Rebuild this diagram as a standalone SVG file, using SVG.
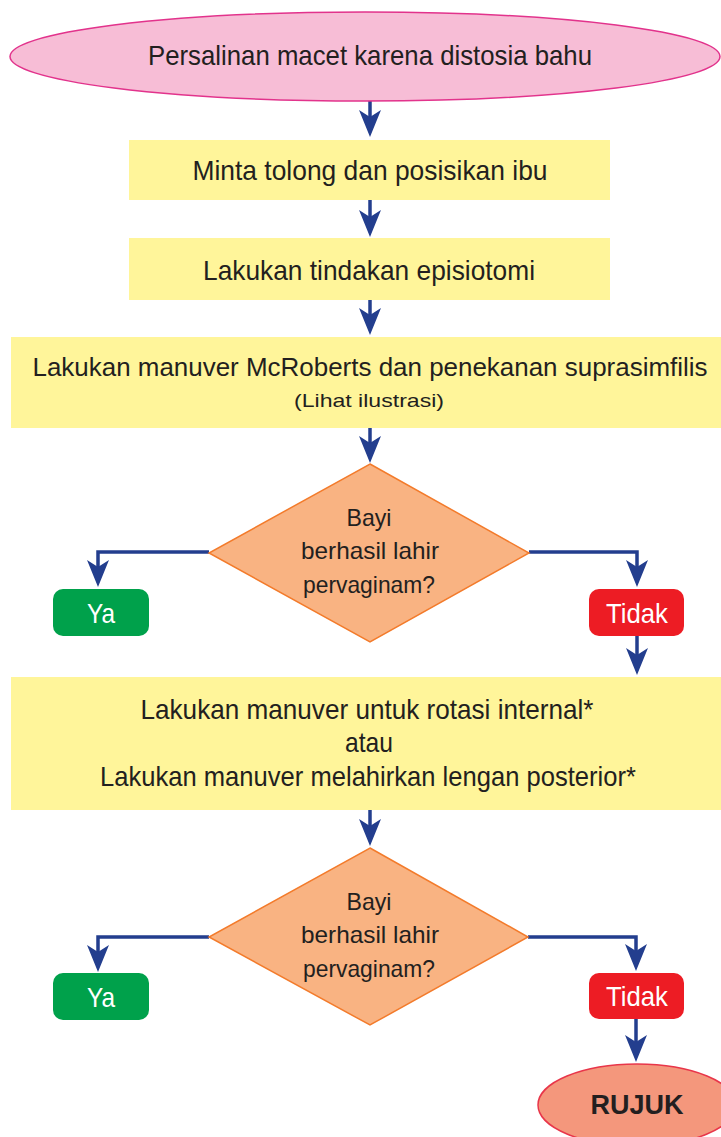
<svg xmlns="http://www.w3.org/2000/svg" width="721" height="1137" viewBox="0 0 721 1137">
<style>
.t{font-family:"Liberation Sans",Arial,sans-serif;fill:#231F20;text-anchor:middle}
.m{font-size:28px}
.s{font-size:19px}
.d{font-size:24px}
.w{font-family:"Liberation Sans",Arial,sans-serif;fill:#FFFFFF;text-anchor:middle;font-size:28px}
.box{fill:#FFF59A}
.dia{fill:#F9B382;stroke:#F37B2B;stroke-width:1.5}
.ya{fill:#00A14B}
.no{fill:#ED1C24}
.c{fill:none;stroke:#233E8E;stroke-width:3.5;marker-end:url(#ah)}
</style>
<defs>
<marker id="ah" markerUnits="userSpaceOnUse" viewBox="0 0 27 22" markerWidth="27" markerHeight="22" refX="17" refY="11" orient="auto">
<path d="M0,0 L27,11 L0,22 L7,11 Z" fill="#233E8E"/>
</marker>
</defs>
<rect width="721" height="1137" fill="#FFFFFF"/>
<g id="connectors">
<path class="c" d="M370,101 V127"/>
<path class="c" d="M370,200 V227"/>
<path class="c" d="M370,300 V325"/>
<path class="c" d="M370,428 V453"/>
<path class="c" d="M209,552 H98 V577"/>
<path class="c" d="M529,552 H637 V577"/>
<path class="c" d="M637,636 V665"/>
<path class="c" d="M370,810 V836"/>
<path class="c" d="M209,937 H98 V962"/>
<path class="c" d="M528,937 H636 V961"/>
<path class="c" d="M636,1019 V1052"/>
</g>
<g id="start">
<ellipse cx="365" cy="56.5" rx="355" ry="44.5" fill="#F7BDD6" stroke="#E2338C" stroke-width="1.5"/>
<text class="t m" x="370" y="65" textLength="444" lengthAdjust="spacingAndGlyphs">Persalinan macet karena distosia bahu</text>
</g>
<g id="step1">
<rect class="box" x="129" y="140" width="481" height="60"/>
<text class="t m" x="370" y="180" textLength="355" lengthAdjust="spacingAndGlyphs">Minta tolong dan posisikan ibu</text>
</g>
<g id="step2">
<rect class="box" x="129" y="238" width="481" height="62"/>
<text class="t m" x="369" y="280" textLength="332" lengthAdjust="spacingAndGlyphs">Lakukan tindakan episiotomi</text>
</g>
<g id="step3">
<rect class="box" x="11" y="337" width="710" height="91"/>
<text class="t" x="370" y="376" font-size="26" textLength="675" lengthAdjust="spacingAndGlyphs">Lakukan manuver McRoberts dan penekanan suprasimfilis</text>
<text class="t s" x="369" y="407" textLength="150" lengthAdjust="spacingAndGlyphs">(Lihat ilustrasi)</text>
</g>
<g id="decision1">
<polygon class="dia" points="370,464 529,553 370,642 209,553"/>
<text class="t d" x="369" y="526" textLength="45" lengthAdjust="spacingAndGlyphs">Bayi</text>
<text class="t d" x="370" y="559" textLength="138" lengthAdjust="spacingAndGlyphs">berhasil lahir</text>
<text class="t d" x="369" y="593" textLength="132" lengthAdjust="spacingAndGlyphs">pervaginam?</text>
</g>
<g id="ya1">
<rect class="ya" x="53" y="589" width="96" height="47" rx="10"/>
<text class="w" x="101" y="623" textLength="28" lengthAdjust="spacingAndGlyphs">Ya</text>
</g>
<g id="tidak1">
<rect class="no" x="589" y="589" width="95" height="47" rx="10"/>
<text class="w" x="637" y="623" textLength="62" lengthAdjust="spacingAndGlyphs">Tidak</text>
</g>
<g id="step4">
<rect class="box" x="11" y="677" width="710" height="133"/>
<text class="t m" x="367" y="719" textLength="453" lengthAdjust="spacingAndGlyphs">Lakukan manuver untuk rotasi internal*</text>
<text class="t m" x="369" y="752" textLength="48" lengthAdjust="spacingAndGlyphs">atau</text>
<text class="t m" x="368" y="786" textLength="536" lengthAdjust="spacingAndGlyphs">Lakukan manuver melahirkan lengan posterior*</text>
</g>
<g id="decision2">
<polygon class="dia" points="370,848 528,937 370,1025 209,937"/>
<text class="t d" x="369" y="910" textLength="45" lengthAdjust="spacingAndGlyphs">Bayi</text>
<text class="t d" x="370" y="943" textLength="138" lengthAdjust="spacingAndGlyphs">berhasil lahir</text>
<text class="t d" x="369" y="977" textLength="132" lengthAdjust="spacingAndGlyphs">pervaginam?</text>
</g>
<g id="ya2">
<rect class="ya" x="53" y="973" width="96" height="47" rx="10"/>
<text class="w" x="101" y="1007" textLength="28" lengthAdjust="spacingAndGlyphs">Ya</text>
</g>
<g id="tidak2">
<rect class="no" x="589" y="973" width="95" height="46" rx="10"/>
<text class="w" x="637" y="1006" textLength="62" lengthAdjust="spacingAndGlyphs">Tidak</text>
</g>
<g id="rujuk">
<ellipse cx="637" cy="1105" rx="99" ry="41" fill="#F4977C" stroke="#E8364A" stroke-width="1.5"/>
<text class="t" x="637" y="1114" font-size="27" font-weight="bold" textLength="93" lengthAdjust="spacingAndGlyphs">RUJUK</text>
</g>
</svg>
